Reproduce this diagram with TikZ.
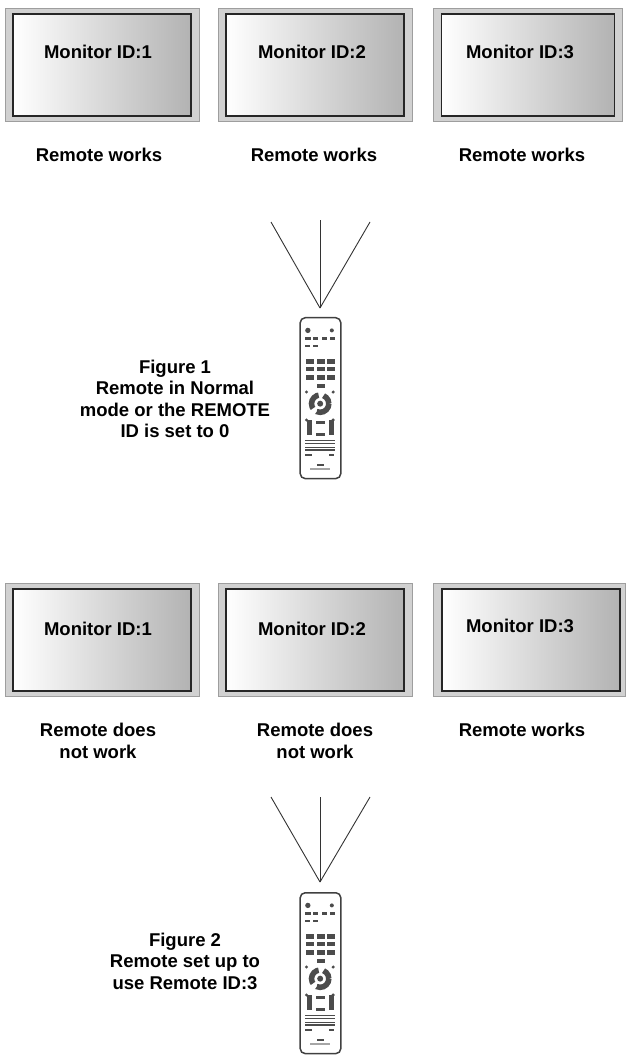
\documentclass[tikz,border=0pt]{standalone}
\usepackage{fontspec}
\setmainfont{Liberation Sans}
\definecolor{bezelgray}{gray}{0.82}
\definecolor{bezeledge}{gray}{0.62}
\definecolor{screenright}{gray}{0.70}
\tikzset{
    pics/remote/.style={code={
        \begin{scope}[x=0.333pt,y=-0.333pt]
            \draw[rbody] (-61,-241) rectangle (61,242);
            % top row
            \fill[rdark] (-38,-203) circle (8);
            \fill[rdark] (34,-203) circle (6);
            \foreach \bx in {-46,-23,4,29} \fill[rdark] (\bx,-183) rectangle ++(16,10);
            \foreach \bx in {-46,-23} \fill[rdark] (\bx,-160) rectangle ++(15,8);
            % number pad
            \foreach \bx in {-44,-11,21}
                \foreach \by in {-116,-93,-68} \fill[rdark] (\bx,\by) rectangle ++(23,13);
            \fill[rdark] (-11,-43) rectangle ++(23,12);
            % arrow pad
            \draw[rdark,line width=5.5pt,dash pattern=on 17pt off 5pt] (-1,17) circle (26);
            \fill[rdark] (-1,17) circle (9);
            \fill[rdark] (-42,-18) circle (5);
            \fill[rdark] (38,-18) circle (5);
            \fill[rdark] (-42,66) circle (5);
            \fill[rdark] (38,66) circle (5);
            % rockers
            \fill[rdark] (-41,65) rectangle ++(15,46);
            \fill[rdark] (25,65) rectangle ++(15,46);
            \fill[rdark] (-13,70) rectangle ++(25,8);
            \fill[rdark] (-13,105) rectangle ++(25,9);
            % lower rows
            \foreach \by in {125,134,147,154} \fill[rdark] (-46,\by) rectangle ++(90,4);
            \fill[rdark] (-47,168) rectangle ++(22,5);
            \fill[rdark] (25,168) rectangle ++(16,5);
            \fill[rdark] (-11,198) rectangle ++(22,7);
            \fill[rgray] (-32,211) rectangle ++(62,4);
        \end{scope}
    }},
    rbody/.style={draw=black!75,fill=white,line width=1.5pt,rounded corners=5pt},
    rdark/.style={black!70},
    rgray/.style={black!35}
}
\begin{document}
\begin{tikzpicture}[x=1pt, y=-1pt, semithick,
                bezel/.style ={rectangle, draw=bezeledge, fill=bezelgray, line width=1pt,
                inner sep=0pt, outer sep=0pt, minimum height=113pt},
                screen/.style ={rectangle, draw=black!85, line width=1.6pt, left color=white,
                right color=screenright, inner sep=0pt, outer sep=0pt, minimum height=102pt},
                caption/.style ={font=\bfseries\fontsize{18.5}{22}\selectfont, align=center, inner sep=0pt},
                beam/.style ={black!80, line width=0.9pt}]

            \useasboundingbox (0,0) rectangle (626,1056);

            % upper row
            \node[bezel, minimum width=194pt] (b1) at (102, 65) {};
            \node[bezel, minimum width=194pt] (b2) at (315, 65) {};
            \node[bezel, minimum width=189pt] (b3) at (528, 65) {};
            \node[screen, minimum width=178pt] (s1) at (102, 65) {};
            \node[screen, minimum width=178pt] (s2) at (315, 65) {};
            \node[screen, minimum width=173pt] (s3) at (528, 65) {};
            \node[caption] (id1) at (98, 52) {Monitor ID:1};
            \node[caption] (id2) at (312, 52) {Monitor ID:2};
            \node[caption] (id3) at (520, 52) {Monitor ID:3};
            \node[caption] (r1) at (99, 155) {Remote works};
            \node[caption] (r2) at (314, 155) {Remote works};
            \node[caption] (r3) at (522, 155) {Remote works};

            \coordinate (tip1) at (320, 308);
            \coordinate (a1) at (271, 222);
            \coordinate (a2) at (320, 220);
            \coordinate (a3) at (370, 222);
            \draw[beam] (tip1) -- (a1);
            \draw[beam] (tip1) -- (a2);
            \draw[beam] (tip1) -- (a3);
            \pic at (320.5, 398) {remote};
            \node[caption, font=\bfseries\fontsize{18.5}{21.5}\selectfont] (fig1) at (175, 399) {Figure 1\\Remote in Normal\\mode or the REMOTE\\ID is set to 0};

            % lower row
            \node[bezel, minimum width=194pt] (b4) at (102, 640) {};
            \node[bezel, minimum width=194pt] (b5) at (315, 640) {};
            \node[bezel, minimum width=192pt] (b6) at (529, 640) {};
            \node[screen, minimum width=178pt] (s4) at (102, 640) {};
            \node[screen, minimum width=178pt] (s5) at (315, 640) {};
            \node[screen, minimum width=178pt] (s6) at (531, 640) {};
            \node[caption] (id4) at (98, 629) {Monitor ID:1};
            \node[caption] (id5) at (312, 629) {Monitor ID:2};
            \node[caption] (id6) at (520, 626) {Monitor ID:3};
            \node[caption] (r4) at (98, 741) {Remote does\\not work};
            \node[caption] (r5) at (315, 741) {Remote does\\not work};
            \node[caption] (r6) at (522, 730) {Remote works};

            \coordinate (tip2) at (320, 882);
            \coordinate (a4) at (271, 797);
            \coordinate (a5) at (320, 797);
            \coordinate (a6) at (370, 797);
            \draw[beam] (tip2) -- (a4);
            \draw[beam] (tip2) -- (a5);
            \draw[beam] (tip2) -- (a6);
            \pic at (320.5, 973) {remote};
            \node[caption, font=\bfseries\fontsize{18.5}{21.5}\selectfont] (fig2) at (185, 961) {Figure 2\\Remote set up to\\use Remote ID:3};
\end{tikzpicture}
\end{document}
